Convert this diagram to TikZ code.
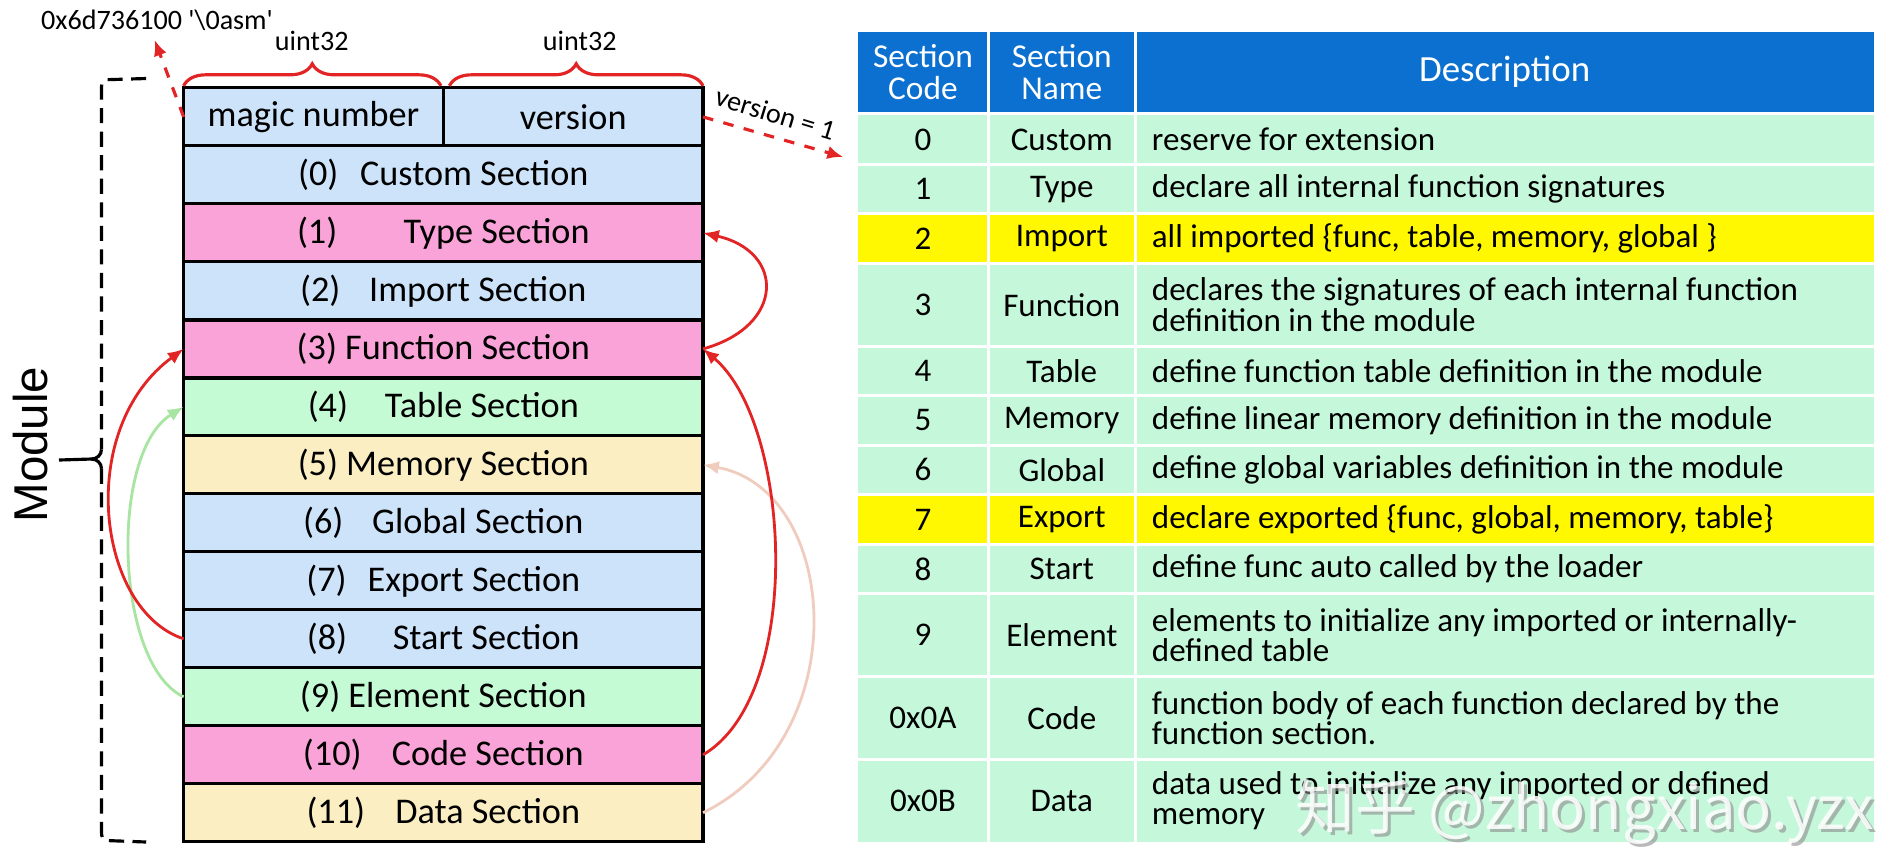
\documentclass[tikz,border=0pt]{standalone}
\usepackage{fontspec}
\setmainfont{Carlito}
\newfontfamily\modfont{Liberation Sans}
\newfontfamily\cjk{Noto Sans CJK SC}
\usetikzlibrary{arrows.meta,decorations.pathreplacing}
\definecolor{secblue}{RGB}{204,227,250}
\definecolor{secpink}{RGB}{249,163,216}
\definecolor{secgreen}{RGB}{196,250,212}
\definecolor{secyellow}{RGB}{251,238,195}
\definecolor{hdblue}{RGB}{11,112,207}
\definecolor{rowgreen}{RGB}{197,247,218}
\definecolor{rowyellow}{RGB}{255,248,0}
\definecolor{arcred}{RGB}{226,36,36}
\definecolor{arcgreen}{RGB}{168,228,162}
\definecolor{arcpale}{RGB}{240,204,190}

\begin{document}
\begin{tikzpicture}[>={Latex[length=4.5pt,width=3.8pt]},
  every node/.style={font=\fontsize{10.3}{12}\selectfont},
  secbox/.style={draw,line width=0.9pt,minimum width=5.194cm,minimum height=0.58cm,inner sep=0pt,outer sep=0pt},
  halfbox/.style={secbox,minimum width=2.597cm},
  small/.style={font=\fontsize{8}{9}\selectfont},
  cellc/.style={font=\fontsize{9.4}{8.6}\selectfont,align=center},
  celld/.style={font=\fontsize{9.4}{8.6}\selectfont,anchor=west,align=left,inner sep=0pt},
  hdtext/.style={text=white,align=center,font=\fontsize{9.5}{9}\selectfont},
  dashedbr/.style={line width=0.9pt,dash pattern=on 4.3pt off 2.4pt},
  arc/.style={line width=0.8pt,->}]
\useasboundingbox (0,0) rectangle (18.94,-8.62);

\node[halfbox,fill=secblue] (magic) at (3.135,-1.169) {magic number};
\node[halfbox,fill=secblue] (version) at (5.732,-1.169) {version};
\node[secbox,fill=secblue] (custom) at (4.433,-1.749) {(0)\hspace{6.2pt}Custom Section};
\node[secbox,fill=secpink] (type) at (4.433,-2.329) {(1)\hspace{18.9pt}Type Section};
\node[secbox,fill=secblue] (import) at (4.433,-2.909) {(2)\hspace{8.2pt}Import Section};
\node[secbox,fill=secpink] (function) at (4.433,-3.489) {(3) Function Section};
\node[secbox,fill=secgreen] (table) at (4.433,-4.069) {(4)\hspace{10.5pt}Table Section};
\node[secbox,fill=secyellow] (memory) at (4.433,-4.648) {(5) Memory Section};
\node[secbox,fill=secblue] (global) at (4.433,-5.228) {(6)\hspace{8.2pt}Global Section};
\node[secbox,fill=secblue] (export) at (4.433,-5.808) {(7)\hspace{6pt}Export Section};
\node[secbox,fill=secblue] (start) at (4.433,-6.388) {(8)\hspace{13pt}Start Section};
\node[secbox,fill=secgreen] (element) at (4.433,-6.968) {(9) Element Section};
\node[secbox,fill=secpink] (code) at (4.433,-7.548) {(10)\hspace{8.6pt}Code Section};
\node[secbox,fill=secyellow] (data) at (4.433,-8.127) {(11)\hspace{8.6pt}Data Section};

\draw[arcred,line width=0.9pt,decorate,decoration={brace,amplitude=0.22cm}] (1.836,-0.858) -- (4.409,-0.858);
\draw[arcred,line width=0.9pt,decorate,decoration={brace,amplitude=0.22cm}] (4.494,-0.858) -- (7.030,-0.858);
\node[small] (u1) at (3.117,-0.411) {uint32}; \node[small] (u2) at (5.798,-0.411) {uint32};
\node[small] (hex) at (1.570,-0.205) {0x6d736100 \textquotesingle\textbackslash0asm\textquotesingle};
\coordinate (hextip) at (1.546,-0.399); \coordinate (vtip) at (8.432,-1.570);
\draw[arcred,line width=0.9pt,dashed,->] (magic.west) -- (hextip);
\node[small,rotate=-17] (vlbl) at (7.755,-1.135) {version = 1};
\draw[arcred,line width=0.9pt,dashed,->] (version.east) -- (vtip);

\draw[dashedbr] (1.462,-0.785) -- (1.063,-0.797) to[out=180,in=90] (1.015,-0.870) -- (1.015,-4.494);
\draw[line width=0.9pt] (1.015,-4.494) to[out=-90,in=0] (0.915,-4.590) -- (0.59,-4.600);
\draw[line width=0.9pt] (0.915,-4.590) to[out=0,in=90] (1.015,-4.687);
\draw[dashedbr] (1.015,-4.687) -- (1.015,-8.323) to[out=-90,in=180] (1.063,-8.405) -- (1.462,-8.420);
\node[font=\modfont\fontsize{13.5}{14}\selectfont,rotate=90] (modlbl) at (0.302,-4.445) {Module};

\draw[arc,arcgreen] (element.west) .. controls (1.148,-6.644) and (1.087,-4.530) .. (table.west);
\draw[arc,arcred] (start.west) .. controls (0.966,-6.100) and (0.749,-4.288) .. (function.west);
\draw[arc,arcpale] (data.east) .. controls (8.577,-7.369) and (8.396,-4.892) .. (memory.east);
\draw[arc,arcred] (code.east) .. controls (8.050,-6.950) and (7.912,-4.228) .. (function.east);
\draw[arc,arcred] (function.east) .. controls (7.852,-3.262) and (7.852,-2.513) .. (type.east);

\fill[hdblue] (8.577,-0.320) rectangle (18.736,-1.117);
\fill[rowgreen] (8.577,-1.148) rectangle (18.736,-8.420);
\fill[rowyellow] (8.577,-2.138) rectangle (18.736,-2.633); \fill[rowyellow] (8.577,-4.947) rectangle (18.736,-5.442);
\draw[white,line width=0.8pt] (8.577,-1.643) -- (18.736,-1.643) (8.577,-2.138) -- (18.736,-2.138) (8.577,-2.633) -- (18.736,-2.633)
  (8.577,-3.461) -- (18.736,-3.461) (8.577,-3.956) -- (18.736,-3.956) (8.577,-4.452) -- (18.736,-4.452)
  (8.577,-4.947) -- (18.736,-4.947) (8.577,-5.442) -- (18.736,-5.442) (8.577,-5.937) -- (18.736,-5.937)
  (8.577,-6.765) -- (18.736,-6.765) (8.577,-7.592) -- (18.736,-7.592);
\draw[white,line width=0.8pt] (9.881,-0.320) -- (9.881,-8.420) (11.355,-0.320) -- (11.355,-8.420);

\node[hdtext] (hcode) at (9.229,-0.719) {Section\\Code};
\node[hdtext] (hname) at (10.618,-0.719) {Section\\Name};
\node[hdtext,font=\fontsize{10.5}{12}\selectfont] (hdesc) at (15.046,-0.719) {Description};

\node[cellc] (c0) at (9.229,-1.395) {0}; \node[cellc] (n0) at (10.618,-1.395) {Custom}; \node[celld] (d0) at (11.512,-1.395) {reserve for extension};
\node[cellc] (c1) at (9.229,-1.891) {1}; \node[cellc] (n1) at (10.618,-1.891) {Type}; \node[celld] (d1) at (11.512,-1.891) {declare all internal function signatures};
\node[cellc] (c2) at (9.229,-2.386) {2}; \node[cellc] (n2) at (10.618,-2.386) {Import}; \node[celld] (d2) at (11.512,-2.386) {all imported \{func, table, memory, global \}};
\node[cellc] (c3) at (9.229,-3.047) {3}; \node[cellc] (n3) at (10.618,-3.047) {Function}; \node[celld] (d3) at (11.512,-3.047) {declares the signatures of each internal function\\definition in the module};
\node[cellc] (c4) at (9.229,-3.709) {4}; \node[cellc] (n4) at (10.618,-3.709) {Table}; \node[celld] (d4) at (11.512,-3.709) {define function table definition in the module};
\node[cellc] (c5) at (9.229,-4.204) {5}; \node[cellc] (n5) at (10.618,-4.204) {Memory}; \node[celld] (d5) at (11.512,-4.204) {define linear memory definition in the module};
\node[cellc] (c6) at (9.229,-4.699) {6}; \node[cellc] (n6) at (10.618,-4.699) {Global}; \node[celld] (d6) at (11.512,-4.699) {define global variables definition in the module};
\node[cellc] (c7) at (9.229,-5.194) {7}; \node[cellc] (n7) at (10.618,-5.194) {Export}; \node[celld] (d7) at (11.512,-5.194) {declare exported \{func, global, memory, table\}};
\node[cellc] (c8) at (9.229,-5.690) {8}; \node[cellc] (n8) at (10.618,-5.690) {Start}; \node[celld] (d8) at (11.512,-5.690) {define func auto called by the loader};
\node[cellc] (c9) at (9.229,-6.351) {9}; \node[cellc] (n9) at (10.618,-6.351) {Element}; \node[celld] (d9) at (11.512,-6.351) {elements to initialize any imported or internally-\\defined table};
\node[cellc] (c10) at (9.229,-7.179) {0x0A}; \node[cellc] (n10) at (10.618,-7.179) {Code}; \node[celld] (d10) at (11.512,-7.179) {function body of each function declared by the\\function section.};
\node[cellc] (c11) at (9.229,-8.006) {0x0B}; \node[cellc] (n11) at (10.618,-8.006) {Data}; \node[celld] (d11) at (11.512,-8.006) {data used to initialize any imported or defined\\memory};

\node[text=black!45,opacity=0.6,font=\cjk\fontsize{17}{18}\selectfont] (wmshadow) at (15.88,-8.15) {知乎 @zhongxiao.yzx};
\node[text=white,opacity=0.85,font=\cjk\fontsize{17}{18}\selectfont] (wm) at (15.85,-8.12) {知乎 @zhongxiao.yzx};
\end{tikzpicture}
\end{document}
